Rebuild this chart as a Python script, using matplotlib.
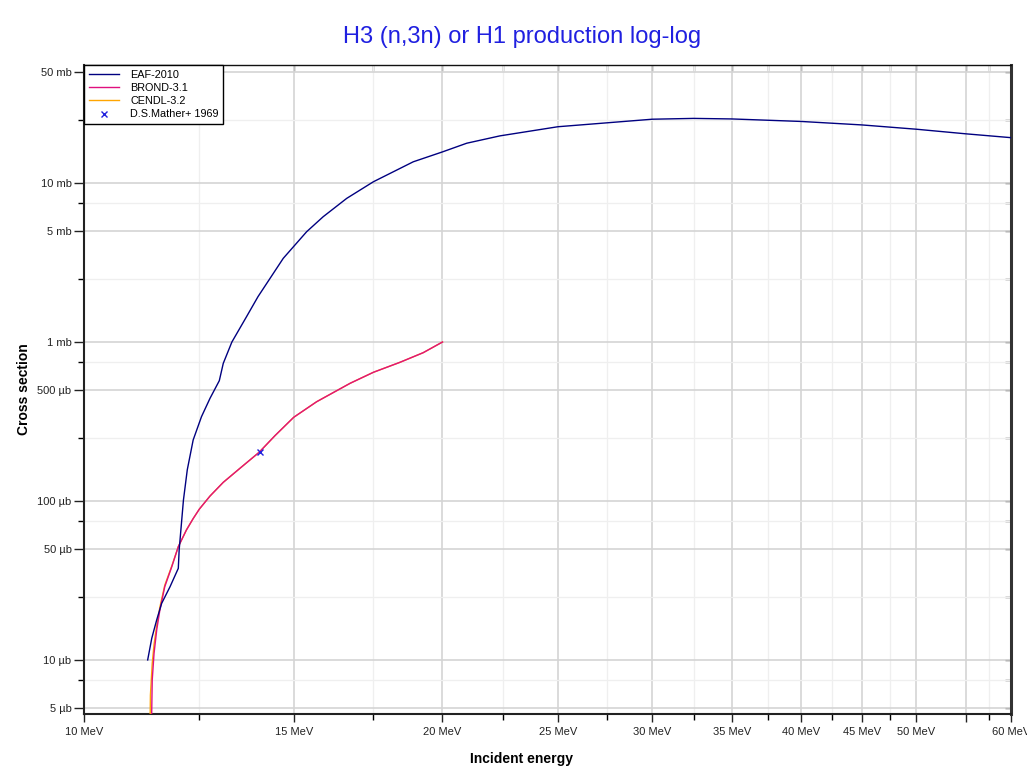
import matplotlib
matplotlib.use("Agg")
import matplotlib.pyplot as plt
from matplotlib.ticker import FixedLocator, FixedFormatter, NullFormatter

plt.rcParams['font.family'] = ['Liberation Sans', 'DejaVu Sans']

# ---- data (energy in MeV, cross section in mb) ----
eaf_E = [11.31, 11.40, 11.51, 11.62, 11.81, 12.00, 12.02, 12.06, 12.08, 12.12, 12.21,
         12.35, 12.55, 12.76, 12.99, 13.09, 13.31, 13.69, 14.0, 14.70, 15.38, 15.88,
         16.62, 17.50, 18.90, 20.0, 20.96, 22.35, 25.0, 30.0, 32.5, 35.0, 40.0, 45.0,
         50.0, 55.0, 60.0]
eaf_xs = [0.0100, 0.0137, 0.0179, 0.0227, 0.0289, 0.0377, 0.0492, 0.0657, 0.076, 0.1014,
          0.157, 0.242, 0.339, 0.443, 0.571, 0.734, 1.00, 1.44, 1.93, 3.36, 4.94, 6.14,
          8.01, 10.19, 13.6, 15.7, 17.8, 19.8, 22.6, 25.2, 25.5, 25.3, 24.4, 23.2,
          21.8, 20.4, 19.3]

brond_E = [11.36, 11.41, 11.45, 11.51, 11.58, 11.69, 11.85, 12.00, 12.19, 12.35, 12.5,
           12.76, 13.09, 13.52, 14.03, 14.47, 15.0, 15.68, 16.73, 17.5, 18.42, 19.27, 20.0]
brond_xs = [0.001, 0.00748, 0.0110, 0.0155, 0.0206, 0.0289, 0.0386, 0.0516, 0.0657, 0.0775,
            0.089, 0.1075, 0.131, 0.1606, 0.2024, 0.258, 0.336, 0.421, 0.550, 0.645,
            0.745, 0.857, 1.0]

cendl_E = [11.34, 11.37, 11.41, 11.45, 11.51, 11.58, 11.69, 11.85, 12.00, 12.19, 12.35,
           12.5, 12.76, 13.09, 13.52, 14.03, 14.47, 15.0, 15.68, 16.73, 17.5, 18.42,
           19.27, 20.0]
cendl_xs = [0.001, 0.006, 0.0095, 0.0125, 0.0165, 0.0215, 0.0295, 0.039, 0.0516, 0.0657,
            0.0775, 0.089, 0.1075, 0.131, 0.1606, 0.2024, 0.258, 0.336, 0.421, 0.550,
            0.645, 0.745, 0.857, 1.0]

mather_E = [14.05]
mather_xs = [0.202]

x_major = [10, 15, 20, 25, 30, 35, 40, 45, 50, 55, 60]
x_labels = ["10 MeV", "15 MeV", "20 MeV", "25 MeV", "30 MeV", "35 MeV", "40 MeV",
            "45 MeV", "50 MeV", "", "60 MeV"]
x_minor = [12.5, 17.5, 22.5, 27.5, 32.5, 37.5, 42.5, 47.5, 57.5]
y_major = [0.005, 0.01, 0.05, 0.1, 0.5, 1, 5, 10, 50]
y_labels = ["5 µb", "10 µb", "50 µb", "100 µb", "500 µb", "1 mb", "5 mb", "10 mb", "50 mb"]
y_minor = [0.0075, 0.025, 0.075, 0.25, 0.75, 2.5, 7.5, 25]

fig = plt.figure(figsize=(10.27, 7.74), dpi=100)
ax = fig.add_axes([0.0818, 0.0775, 0.9023, 0.8389])
ax.set_xscale('log')
ax.set_yscale('log')
ax.set_xlim(10, 60)
ax.set_ylim(0.00457, 55.5)

ax.plot(eaf_E, eaf_xs, color='#000080', lw=1.0, label='EAF-2010', zorder=4)
ax.plot(cendl_E, cendl_xs, color='#FFA500', lw=1.0, label='CENDL-3.2', zorder=3)
ax.plot(brond_E, brond_xs, color='#E0107E', lw=1.0, label='BROND-3.1', zorder=3.5)
ax.plot(mather_E, mather_xs, linestyle='none', marker='x', ms=5, mew=1.0,
        color='#2222DD', label='D.S.Mather+ 1969', zorder=5)

ax.xaxis.set_major_locator(FixedLocator(x_major))
ax.xaxis.set_major_formatter(FixedFormatter(x_labels))
ax.xaxis.set_minor_locator(FixedLocator(x_minor))
ax.xaxis.set_minor_formatter(NullFormatter())
ax.yaxis.set_major_locator(FixedLocator(y_major))
ax.yaxis.set_major_formatter(FixedFormatter(y_labels))
ax.yaxis.set_minor_locator(FixedLocator(y_minor))
ax.yaxis.set_minor_formatter(NullFormatter())

ax.grid(True, which='major', color='#d4d4d4', lw=1.2)
ax.grid(True, which='minor', color='#efefef', lw=0.9)
ax.set_axisbelow(True)

ax.tick_params(axis='y', which='major', direction='out', length=7, width=1, labelsize=8,
               colors='#222222', pad=2)
ax.tick_params(axis='y', which='minor', direction='out', length=4, width=1)
ax.tick_params(axis='x', which='major', direction='out', length=6, width=1, labelsize=8,
               colors='#222222', pad=3)
ax.tick_params(axis='x', which='minor', direction='out', length=4, width=1)
for s in ['left', 'bottom']:
    ax.spines[s].set_linewidth(1.5)
    ax.spines[s].set_color('#222222')
ax.spines['top'].set_linewidth(1.0)
ax.spines['top'].set_color('#111111')
ax.spines['right'].set_linewidth(2.2)
ax.spines['right'].set_color('#333333')

# mirrored inward ticks on top and right
secx = ax.secondary_xaxis('top')
secx.xaxis.set_major_locator(FixedLocator(x_major))
secx.xaxis.set_minor_locator(FixedLocator(x_minor))
secx.xaxis.set_major_formatter(NullFormatter())
secx.xaxis.set_minor_formatter(NullFormatter())
secx.tick_params(which='both', direction='in', length=4, width=1, colors='#555555')
secx.spines['top'].set_visible(False)
secy = ax.secondary_yaxis('right')
secy.yaxis.set_major_locator(FixedLocator(y_major))
secy.yaxis.set_minor_locator(FixedLocator(y_minor))
secy.yaxis.set_major_formatter(NullFormatter())
secy.yaxis.set_minor_formatter(NullFormatter())
secy.tick_params(which='both', direction='in', length=4, width=1, colors='#333333')
secy.spines['right'].set_visible(False)

ax.set_xlabel('Incident energy', fontsize=10, fontweight='bold')
ax.xaxis.set_label_coords(0.4725, -0.0585)
ax.set_ylabel('Cross section', fontsize=10, fontweight='bold')
ax.yaxis.set_label_coords(-0.0572, 0.5)
fig.suptitle('H3 (n,3n) or H1 production log-log', color='#2020E0', fontsize=17,
             x=0.508, y=0.966)

handles, labels = ax.get_legend_handles_labels()
order = [labels.index(l) for l in ['EAF-2010', 'BROND-3.1', 'CENDL-3.2', 'D.S.Mather+ 1969']]
leg = ax.legend([handles[i] for i in order], [labels[i] for i in order],
                loc='upper left', bbox_to_anchor=(0, 1), borderaxespad=0,
                fontsize=7.8, fancybox=False, edgecolor='black', framealpha=1,
                handlelength=2.8, handletextpad=1.0, labelspacing=0.3,
                borderpad=0.45)
leg.get_frame().set_linewidth(1.0)
leg.set_zorder(10)

fig.savefig('out.png', dpi=100)
